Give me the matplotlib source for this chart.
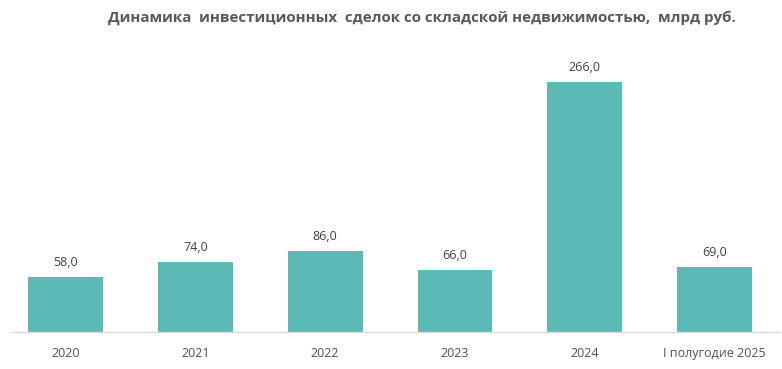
import matplotlib
matplotlib.use('Agg')
import matplotlib.pyplot as plt

plt.rcParams['font.family'] = ['Open Sans', 'DejaVu Sans']

# data
categories = ['2020', '2021', '2022', '2023', '2024', 'I полугодие 2025']
values = [58.0, 74.0, 86.0, 66.0, 266.0, 69.0]

bar_color = '#5BBAB5'
text_color = '#595959'

fig = plt.figure(figsize=(7.82, 3.69), dpi=100)
ax = fig.add_axes([0.014, 0.1003, 0.983, 0.74])

x = range(len(categories))
bars = ax.bar(x, values, width=0.577, color=bar_color, zorder=2)

# value labels like "58,0"
for bar, v in zip(bars, values):
    ax.annotate(f"{v:.1f}".replace('.', ','),
                (bar.get_x() + bar.get_width() / 2, bar.get_height()),
                xytext=(0, 6), textcoords='offset points',
                ha='center', va='bottom', fontsize=9, color='#404040')

ax.set_xlim(-0.42, 5.5)
ax.set_ylim(0, 266 * 0.74 * 369 / 250)
ax.set_xticks(list(x))
ax.set_xticklabels(categories, fontsize=9, color='#505050')
ax.tick_params(axis='x', length=0, pad=11)
ax.set_yticks([])

for s in ['top', 'right', 'left']:
    ax.spines[s].set_visible(False)
ax.spines['bottom'].set_color('#D9D9D9')
ax.spines['bottom'].set_linewidth(1.0)

fig.text(0.539, 0.953, 'Динамика  инвестиционных  сделок со складской недвижимостью,  млрд руб.',
         ha='center', va='center', fontsize=10.9, fontweight='bold', color=text_color)

fig.savefig('out.png', dpi=100, facecolor='white')
